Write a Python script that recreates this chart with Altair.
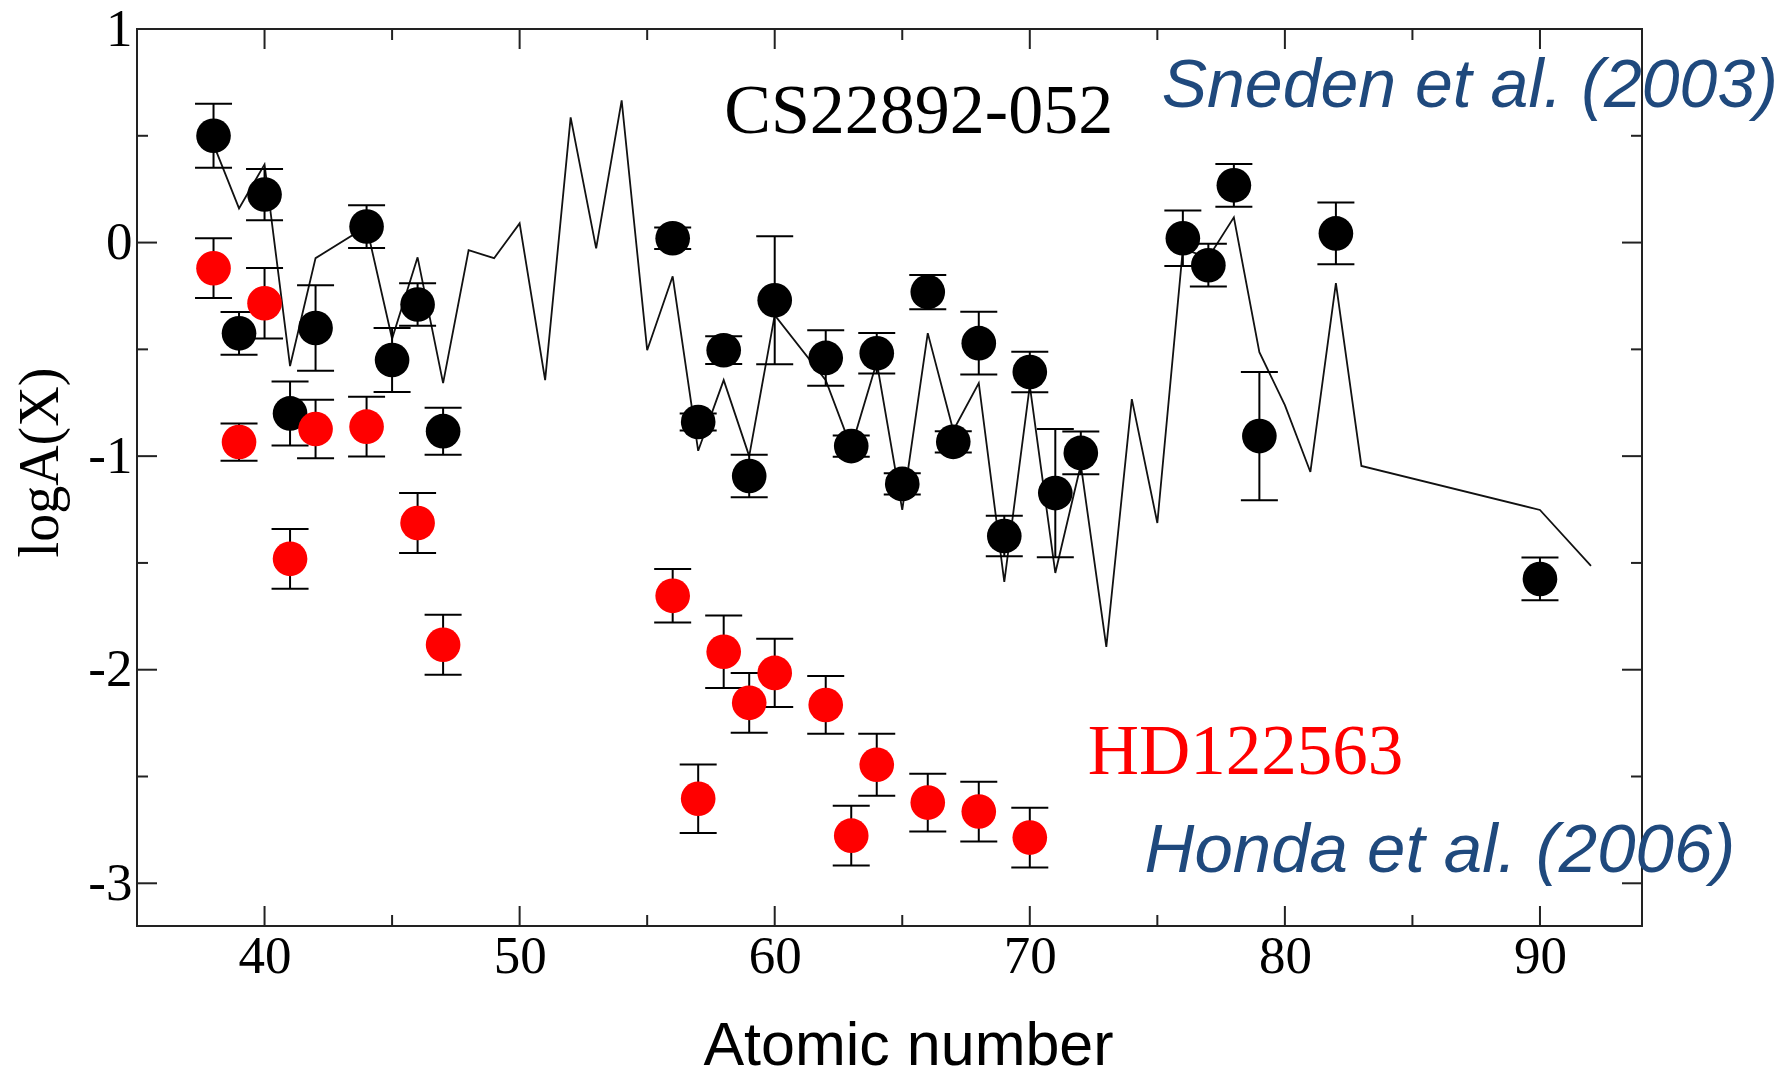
import altair as alt
import pandas as pd

# ---- data ----
# scaled solar r-process curve
model_z = [38, 39, 40, 41, 42, 44, 45, 46, 47, 48, 49, 50, 51, 52, 53, 54, 55, 56, 57, 58,
           59, 60, 62, 63, 64, 65, 66, 67, 68, 69, 70, 71, 72, 73, 74, 75, 76, 77, 78, 79,
           80, 81, 82, 83, 90, 92]
model_logA = [0.46, 0.16, 0.366, -0.578, -0.073, 0.075, -0.45, -0.069, -0.658, -0.036,
              -0.073, 0.09, -0.644, 0.586, -0.027, 0.666, -0.504, -0.158, -0.975, -0.644,
              -1.0, -0.34, -0.644, -0.96, -0.56, -1.252, -0.424, -0.88, -0.658, -1.589,
              -0.67, -1.547, -1.04, -1.893, -0.733, -1.313, -0.03, -0.07, 0.118, -0.513,
              -0.761, -1.074, -0.19, -1.046, -1.252, -1.514]

# CS22892-052 (Sneden et al. 2003)
cs_z = [38, 39, 40, 41, 42, 44, 45, 46, 47, 56, 57, 58, 59, 60, 62, 63, 64, 65, 66, 67,
        68, 69, 70, 71, 72, 76, 77, 78, 79, 82, 90]
cs_logA = [0.50, -0.425, 0.225, -0.80, -0.40, 0.075, -0.55, -0.29, -0.883, 0.02, -0.84,
           -0.504, -1.093, -0.27, -0.54, -0.953, -0.518, -1.13, -0.232, -0.933, -0.471,
           -1.374, -0.606, -1.173, -0.985, 0.02, -0.106, 0.268, -0.906, 0.043, -1.575]
cs_err = [0.15, 0.10, 0.12, 0.15, 0.20, 0.10, 0.15, 0.10, 0.11, 0.05, 0.04, 0.065, 0.10,
          0.30, 0.13, 0.05, 0.095, 0.05, 0.08, 0.05, 0.147, 0.095, 0.095, 0.30, 0.10,
          0.13, 0.10, 0.10, 0.30, 0.145, 0.10]

# HD122563 (Honda et al. 2006)
hd_z = [38, 39, 40, 41, 42, 44, 46, 47, 56, 57, 58, 59, 60, 62, 63, 64, 66, 68, 70]
hd_logA = [-0.12, -0.934, -0.284, -1.481, -0.873, -0.862, -1.313, -1.883, -1.654, -2.604,
           -1.916, -2.155, -2.015, -2.165, -2.777, -2.445, -2.622, -2.664, -2.786]
hd_err = [0.14, 0.087, 0.165, 0.14, 0.137, 0.14, 0.14, 0.14, 0.125, 0.16, 0.17, 0.14,
          0.16, 0.135, 0.14, 0.145, 0.135, 0.14, 0.14]

# axis ticks
x_major = [40, 50, 60, 70, 80, 90]
x_minor = [45, 55, 65, 75, 85]
y_major = [-3, -2, -1, 0, 1]
y_minor = [-2.5, -1.5, -0.5, 0.5]

# annotation texts
star1_label = ["CS22892-052"]
star2_label = ["HD122563"]
ref1_label = ["Sneden et al. (2003)"]
ref2_label = ["Honda et al. (2006)"]

# ---- layout ----
W, H = 1505, 897
SERIF = "Liberation Serif"
SANS = "Liberation Sans"
BLUE = "#1F497D"

xs = alt.Scale(domain=[35, 94], nice=False, zero=False)
ys = alt.Scale(domain=[-3.2, 1], nice=False, zero=False)

model_df = pd.DataFrame({"Z": model_z, "logA": model_logA})
cs_df = pd.DataFrame({"Z": cs_z, "logA": cs_logA, "err": cs_err})
cs_df["lo"] = cs_df["logA"] - cs_df["err"]
cs_df["hi"] = cs_df["logA"] + cs_df["err"]
hd_df = pd.DataFrame({"Z": hd_z, "logA": hd_logA, "err": hd_err})
hd_df["lo"] = hd_df["logA"] - hd_df["err"]
hd_df["hi"] = hd_df["logA"] + hd_df["err"]
err_df = pd.concat([cs_df, hd_df], ignore_index=True)

x_axis = alt.Axis(values=x_major, ticks=False, domain=False, grid=False,
                  labelFont=SERIF, labelFontSize=53, labelColor="black", labelPadding=4,
                  labelFlush=False,
                  title="Atomic number", titleFont=SANS, titleFontSize=61,
                  titleFontWeight="normal", titleColor="black",
                  titleX=771, titleY=138, titleAlign="center", titleBaseline="alphabetic")
y_axis = alt.Axis(values=y_major, ticks=False, domain=False, grid=False,
                  labelFont=SERIF, labelFontSize=53, labelColor="black", labelPadding=5,
                  labelExpr="'' + datum.value", labelFlush=False,
                  title="logA(X)", titleFont=SERIF, titleFontSize=56,
                  titleFontWeight="normal", titleColor="black", titleAngle=-90,
                  titleX=-97, titleY=433, titleAlign="center", titleBaseline="middle")


def X(field):
    return alt.X(field, scale=xs, axis=x_axis)


def Y(field):
    return alt.Y(field, scale=ys, axis=y_axis)


line = alt.Chart(model_df).mark_line(color="#111111", strokeWidth=1.8).encode(
    x=X("Z:Q"), y=Y("logA:Q"))

err_rule = alt.Chart(err_df).mark_rule(color="black", strokeWidth=2).encode(
    x=X("Z:Q"), y=Y("lo:Q"), y2="hi:Q")
cap_lo = alt.Chart(err_df).mark_tick(color="black", orient="horizontal", size=37,
                                     thickness=2, opacity=1).encode(
    x=X("Z:Q"), y=Y("lo:Q"))
cap_hi = alt.Chart(err_df).mark_tick(color="black", orient="horizontal", size=37,
                                     thickness=2, opacity=1).encode(
    x=X("Z:Q"), y=Y("hi:Q"))

cs_pts = alt.Chart(cs_df).mark_point(filled=True, color="black", size=1200, opacity=1,
                                     shape="circle").encode(
    x=X("Z:Q"), y=Y("logA:Q"))
hd_pts = alt.Chart(hd_df).mark_point(filled=True, color="#FF0000", size=1200, opacity=1,
                                     shape="circle").encode(
    x=X("Z:Q"), y=Y("logA:Q"))


# inward ticks on all four sides
def xticks(vals, length, top):
    df = pd.DataFrame({"v": vals})
    y0, y1 = (0, length) if top else (H, H - length)
    return alt.Chart(df).mark_rule(color="#222222", strokeWidth=2).encode(
        x=X("v:Q"), y=alt.value(y0), y2=alt.value(y1))


def yticks(vals, length, right):
    df = pd.DataFrame({"v": vals})
    x0, x1 = (W, W - length) if right else (0, length)
    return alt.Chart(df).mark_rule(color="#222222", strokeWidth=2).encode(
        y=Y("v:Q"), x=alt.value(x0), x2=alt.value(x1))


ticks = [
    xticks(x_major, 20, False), xticks(x_minor, 11, False),
    xticks(x_major, 20, True), xticks(x_minor, 11, True),
    yticks(y_major, 20, False), yticks(y_minor, 11, False),
    yticks(y_major, 20, True), yticks(y_minor, 11, True),
]


def label(texts, xv, yv, color, font, size, style="normal"):
    return alt.Chart(pd.DataFrame({"t": texts})).mark_text(
        align="left", baseline="alphabetic", font=font, fontSize=size,
        fontStyle=style, color=color).encode(
        x=alt.datum(xv), y=alt.datum(yv), text="t:N")


texts = [
    label(star1_label, 58.02, 0.511, "black", SERIF, 70),
    label(star2_label, 72.27, -2.487, "#FF0000", SERIF, 71),
    label(ref1_label, 75.17, 0.637, BLUE, SANS, 68, "italic"),
    label(ref2_label, 74.5, -2.945, BLUE, SANS, 69, "italic"),
]

chart = alt.layer(line, err_rule, cap_lo, cap_hi, cs_pts, hd_pts, *ticks, *texts).properties(
    width=W, height=H,
    autosize=alt.AutoSizeParams(type="none"),
    padding={"left": 137, "top": 29, "right": 146, "bottom": 151},
    background="white",
).configure_view(stroke="#222222", strokeWidth=2)

chart.save("out.html", embed_options={"renderer": "svg", "actions": False})
